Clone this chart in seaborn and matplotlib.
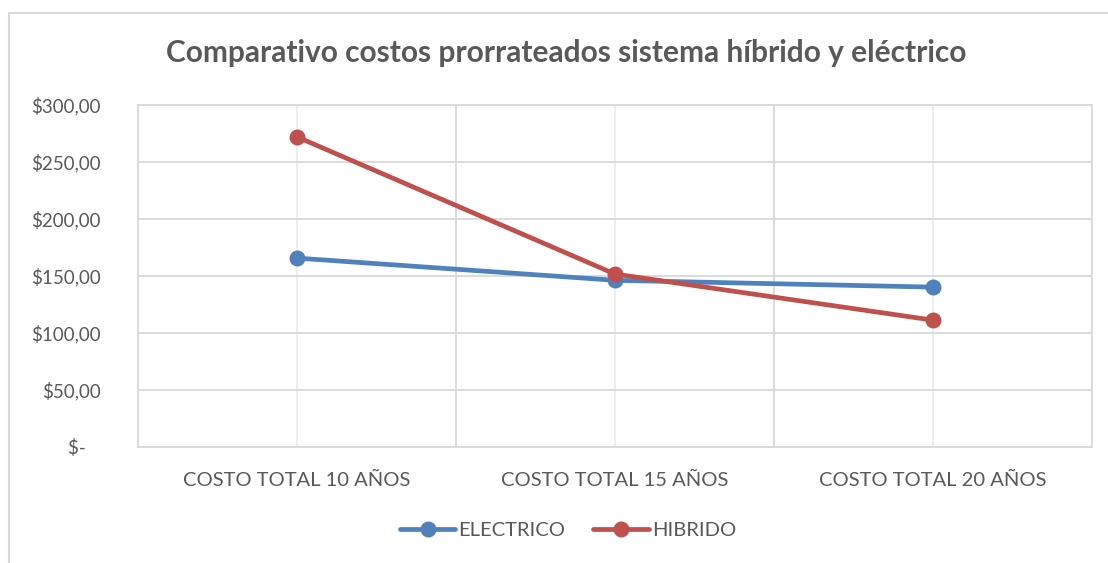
import matplotlib
matplotlib.use("Agg")
import matplotlib.pyplot as plt
from matplotlib.lines import Line2D
from matplotlib.ticker import FixedLocator, FixedFormatter
import pandas as pd
import seaborn as sns

# Data
categorias = ["COSTO TOTAL 10 AÑOS", "COSTO TOTAL 15 AÑOS", "COSTO TOTAL 20 AÑOS"]
electrico = [165.5, 146.0, 140.0]
hibrido = [272.0, 151.5, 111.0]
series = ["ELECTRICO", "HIBRIDO"]
colores = ["#4F81BD", "#C0504D"]
y_ticks = [0, 50, 100, 150, 200, 250, 300]
y_labels = ["$-   ", "$50,00", "$100,00", "$150,00", "$200,00", "$250,00", "$300,00"]
titulo = "Comparativo costos prorrateados sistema híbrido y eléctrico"

df = pd.DataFrame({
    "categoria": categorias * 2,
    "costo": electrico + hibrido,
    "serie": [series[0]] * len(categorias) + [series[1]] * len(categorias),
})

sns.set_theme(style="white")
plt.rcParams["font.family"] = ["Lato", "DejaVu Sans"]

W, H = 1108, 563
fig = plt.figure(figsize=(W / 100, H / 100), dpi=100)
fig.patch.set_facecolor("white")
ax = fig.add_axes([138 / W, 1 - 446.5 / H, (1092 - 138) / W, (446.5 - 105) / H])

grid_dark = "#D9D9D9"
grid_light = "#EDEDED"
text_col = "#595959"

sns.lineplot(
    data=df, x="categoria", y="costo", hue="serie", palette=colores,
    marker="o", markersize=11.5, markeredgewidth=0, linewidth=3.4,
    sort=False, ax=ax, legend=False, zorder=3,
)

ax.set_xlim(-0.5, len(categorias) - 0.5)
ax.set_ylim(0, 300)

ax.yaxis.set_major_locator(FixedLocator(y_ticks))
ax.yaxis.set_major_formatter(FixedFormatter(y_labels))
ax.set_xticks(range(len(categorias)))
ax.set_xticklabels(categorias)
ax.set_xticks([i + 0.5 for i in range(len(categorias) - 1)], minor=True)

ax.grid(axis="y", which="major", color=grid_dark, linewidth=1.3)
ax.grid(axis="x", which="major", color=grid_light, linewidth=1.3)
ax.grid(axis="x", which="minor", color=grid_dark, linewidth=1.3)
ax.set_axisbelow(True)

for s in ax.spines.values():
    s.set_visible(True)
    s.set_color(grid_dark)
    s.set_linewidth(1.3)

ax.tick_params(axis="both", which="both", length=0)
ax.tick_params(axis="y", pad=27, labelsize=13.5, labelcolor=text_col)
ax.tick_params(axis="x", pad=18, labelsize=14.5, labelcolor=text_col)
ax.set_xlabel("")
ax.set_ylabel("")

fig.text(566 / W, 1 - 53 / H, titulo, ha="center", va="center",
         fontsize=21.5, fontweight="bold", color=text_col)

handles = [
    Line2D([], [], color=c, linewidth=3.4, marker="o", markersize=11.5,
           markeredgewidth=0, solid_capstyle="round")
    for c in colores
]
fig.legend(handles, series, loc="center", bbox_to_anchor=(568 / W, 1 - 530 / H),
           ncol=2, frameon=False, fontsize=14.5, labelcolor=text_col,
           handlelength=2.75, handletextpad=0.15, columnspacing=1.4)

# Chart area border
fig.add_artist(Line2D([8.5 / W, 1.0], [1 - 12.5 / H] * 2, color=grid_dark,
                      linewidth=1.5, transform=fig.transFigure))
fig.add_artist(Line2D([8.5 / W] * 2, [0.0, 1 - 12.5 / H], color=grid_dark,
                      linewidth=1.5, transform=fig.transFigure))

fig.savefig("out.png", dpi=100, facecolor="white")
